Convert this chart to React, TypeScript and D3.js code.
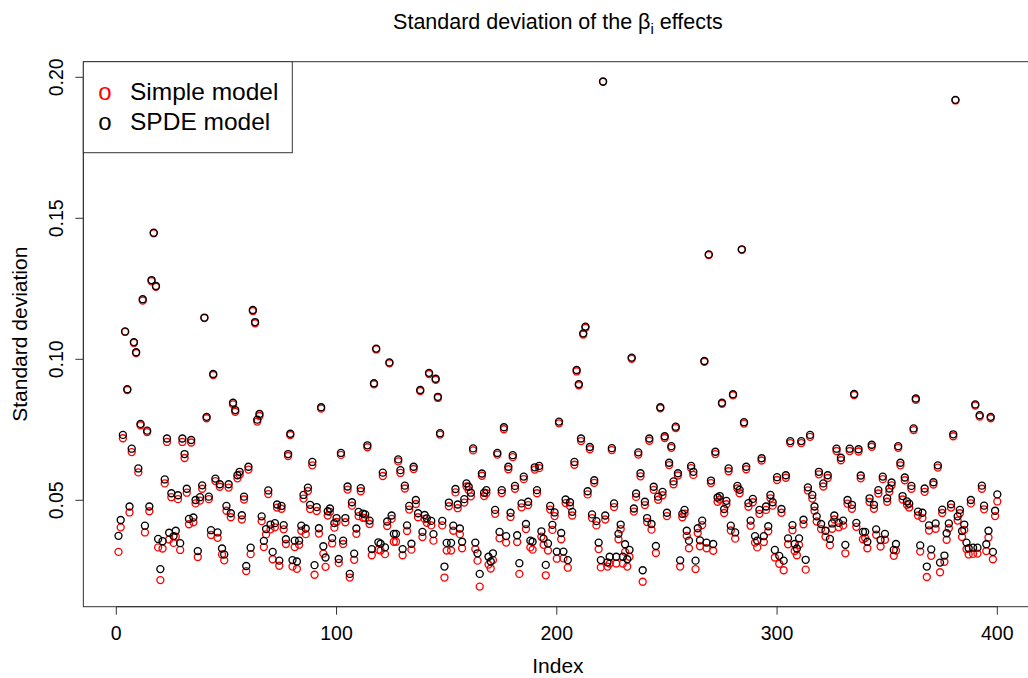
import React from "react";
import * as d3 from "d3";

// SPDE model (black) standard deviations, index 1..400
const spdeSD: number[] = [
  0.0374, 0.0430, 0.0732, 0.1099, 0.0894, 0.0478, 0.0683, 0.1061, 0.1025, 0.0613,
  0.0771, 0.1213, 0.0410, 0.0747, 0.0478, 0.1281, 0.1449, 0.1260, 0.0363, 0.0256,
  0.0355, 0.0574, 0.0719, 0.0385, 0.0525, 0.0373, 0.0392, 0.0518, 0.0348, 0.0719,
  0.0664, 0.0541, 0.0434, 0.0714, 0.0439, 0.0501, 0.0320, 0.0511, 0.0553, 0.1148,
  0.0796, 0.0513, 0.0394, 0.0948, 0.0577, 0.0386, 0.0557, 0.0329, 0.0308, 0.0480,
  0.0557, 0.0454, 0.0846, 0.0820, 0.0589, 0.0601, 0.0447, 0.0513, 0.0267, 0.0619,
  0.0332, 0.1175, 0.1132, 0.0786, 0.0806, 0.0443, 0.0356, 0.0398, 0.0535, 0.0414,
  0.0317, 0.0419, 0.0485, 0.0286, 0.0480, 0.0412, 0.0362, 0.0664, 0.0736, 0.0288,
  0.0357, 0.0283, 0.0357, 0.0410, 0.0519, 0.0400, 0.0545, 0.0484, 0.0636, 0.0270,
  0.0476, 0.0401, 0.0830, 0.0337, 0.0297, 0.0461, 0.0471, 0.0366, 0.0419, 0.0437,
  0.0292, 0.0668, 0.0357, 0.0437, 0.0549, 0.0239, 0.0493, 0.0311, 0.0400, 0.0459,
  0.0543, 0.0453, 0.0450, 0.0695, 0.0428, 0.0327, 0.0915, 0.1038, 0.0351, 0.0346,
  0.0598, 0.0333, 0.0425, 0.0989, 0.0446, 0.0381, 0.0381, 0.0645, 0.0607, 0.0327,
  0.0552, 0.0411, 0.0480, 0.0346, 0.0619, 0.0501, 0.0454, 0.0891, 0.0388, 0.0448,
  0.0436, 0.0952, 0.0427, 0.0380, 0.0931, 0.0867, 0.0738, 0.0427, 0.0265, 0.0349,
  0.0492, 0.0349, 0.0410, 0.0540, 0.0485, 0.0400, 0.0353, 0.0504, 0.0560, 0.0548,
  0.0527, 0.0684, 0.0350, 0.0312, 0.0239, 0.0595, 0.0527, 0.0536, 0.0300, 0.0283,
  0.0312, 0.0466, 0.0668, 0.0388, 0.0536, 0.0759, 0.0373, 0.0619, 0.0456, 0.0660,
  0.0551, 0.0376, 0.0277, 0.0489, 0.0584, 0.0416, 0.0495, 0.0357, 0.0353, 0.0617,
  0.0536, 0.0622, 0.0390, 0.0364, 0.0271, 0.0347, 0.0480, 0.0413, 0.0457, 0.0318,
  0.0779, 0.0384, 0.0318, 0.0503, 0.0288, 0.0493, 0.0459, 0.0636, 0.0962, 0.0912,
  0.0719, 0.1092, 0.1116, 0.0532, 0.0689, 0.0450, 0.0571, 0.0426, 0.0350, 0.0288,
  0.1985, 0.0446, 0.0280, 0.0300, 0.0685, 0.0489, 0.0300, 0.0381, 0.0414, 0.0300,
  0.0344, 0.0291, 0.0324, 0.1006, 0.0471, 0.0524, 0.0670, 0.0596, 0.0252, 0.0495,
  0.0437, 0.0719, 0.0416, 0.0548, 0.0338, 0.0513, 0.0830, 0.0530, 0.0727, 0.0456,
  0.0633, 0.0692, 0.0567, 0.0761, 0.0596, 0.0287, 0.0452, 0.0466, 0.0392, 0.0357,
  0.0622, 0.0601, 0.0286, 0.0401, 0.0358, 0.0428, 0.0994, 0.0350, 0.1372, 0.0570,
  0.0345, 0.0672, 0.0510, 0.0515, 0.0846, 0.0469, 0.0498, 0.0613, 0.0410, 0.0876,
  0.0386, 0.0551, 0.0537, 0.1390, 0.0777, 0.0619, 0.0490, 0.0428, 0.0505, 0.0373,
  0.0357, 0.0466, 0.0649, 0.0373, 0.0478, 0.0408, 0.0519, 0.0493, 0.0324, 0.0582,
  0.0303, 0.0469, 0.0286, 0.0589, 0.0365, 0.0710, 0.0412, 0.0345, 0.0329, 0.0365,
  0.0710, 0.0431, 0.0289, 0.0546, 0.0732, 0.0519, 0.0478, 0.0443, 0.0601, 0.0416,
  0.0560, 0.0392, 0.0589, 0.0363, 0.0418, 0.0446, 0.0683, 0.0420, 0.0651, 0.0428,
  0.0342, 0.0501, 0.0683, 0.0484, 0.0877, 0.0420, 0.0681, 0.0588, 0.0388, 0.0388,
  0.0353, 0.0507, 0.0697, 0.0484, 0.0397, 0.0536, 0.0359, 0.0584, 0.0381, 0.0507,
  0.0542, 0.0563, 0.0324, 0.0345, 0.0692, 0.0633, 0.0515, 0.0581, 0.0496, 0.0488,
  0.0551, 0.0755, 0.0861, 0.0460, 0.0340, 0.0456, 0.0542, 0.0265, 0.0411, 0.0326,
  0.0564, 0.0418, 0.0624, 0.0279, 0.0467, 0.0304, 0.0383, 0.0418, 0.0486, 0.0734,
  0.1920, 0.0443, 0.0466, 0.0391, 0.0414, 0.0350, 0.0330, 0.0501, 0.0332, 0.0840,
  0.0332, 0.0802, 0.0552, 0.0481, 0.0344, 0.0392, 0.0796, 0.0317, 0.0463, 0.0521,
];

// Simple model (red) standard deviations, index 1..400
const simpleSD: number[] = [
  0.0317, 0.0404, 0.0720, 0.1097, 0.0891, 0.0457, 0.0671, 0.1058, 0.1022, 0.0599,
  0.0766, 0.1208, 0.0386, 0.0742, 0.0461, 0.1277, 0.1447, 0.1257, 0.0333, 0.0217,
  0.0329, 0.0560, 0.0707, 0.0361, 0.0511, 0.0349, 0.0371, 0.0504, 0.0324, 0.0707,
  0.0650, 0.0527, 0.0415, 0.0705, 0.0422, 0.0489, 0.0299, 0.0499, 0.0541, 0.1146,
  0.0791, 0.0504, 0.0377, 0.0944, 0.0568, 0.0367, 0.0548, 0.0308, 0.0287, 0.0463,
  0.0545, 0.0440, 0.0840, 0.0814, 0.0578, 0.0591, 0.0432, 0.0503, 0.0249, 0.0609,
  0.0309, 0.1171, 0.1128, 0.0779, 0.0799, 0.0426, 0.0334, 0.0379, 0.0522, 0.0397,
  0.0291, 0.0404, 0.0474, 0.0268, 0.0470, 0.0397, 0.0345, 0.0657, 0.0731, 0.0265,
  0.0334, 0.0257, 0.0342, 0.0392, 0.0506, 0.0380, 0.0533, 0.0469, 0.0624, 0.0236,
  0.0462, 0.0382, 0.0825, 0.0311, 0.0264, 0.0446, 0.0459, 0.0347, 0.0403, 0.0423,
  0.0278, 0.0661, 0.0345, 0.0422, 0.0538, 0.0226, 0.0481, 0.0289, 0.0381, 0.0444,
  0.0532, 0.0438, 0.0437, 0.0688, 0.0416, 0.0305, 0.0911, 0.1035, 0.0325, 0.0322,
  0.0586, 0.0309, 0.0409, 0.0986, 0.0434, 0.0353, 0.0353, 0.0638, 0.0597, 0.0305,
  0.0542, 0.0391, 0.0467, 0.0325, 0.0611, 0.0487, 0.0440, 0.0887, 0.0370, 0.0434,
  0.0420, 0.0948, 0.0411, 0.0357, 0.0927, 0.0863, 0.0733, 0.0411, 0.0226, 0.0322,
  0.0479, 0.0322, 0.0392, 0.0528, 0.0472, 0.0380, 0.0330, 0.0492, 0.0549, 0.0536,
  0.0514, 0.0677, 0.0327, 0.0286, 0.0194, 0.0587, 0.0515, 0.0525, 0.0272, 0.0258,
  0.0288, 0.0452, 0.0662, 0.0365, 0.0526, 0.0752, 0.0350, 0.0610, 0.0441, 0.0653,
  0.0541, 0.0352, 0.0239, 0.0475, 0.0575, 0.0398, 0.0483, 0.0333, 0.0325, 0.0609,
  0.0525, 0.0614, 0.0371, 0.0342, 0.0234, 0.0322, 0.0467, 0.0395, 0.0444, 0.0293,
  0.0773, 0.0362, 0.0294, 0.0490, 0.0261, 0.0480, 0.0446, 0.0626, 0.0957, 0.0908,
  0.0710, 0.1088, 0.1112, 0.0521, 0.0681, 0.0437, 0.0562, 0.0411, 0.0327, 0.0262,
  0.1984, 0.0432, 0.0265, 0.0276, 0.0678, 0.0476, 0.0276, 0.0362, 0.0398, 0.0276,
  0.0317, 0.0265, 0.0300, 0.1002, 0.0460, 0.0512, 0.0662, 0.0585, 0.0211, 0.0483,
  0.0423, 0.0711, 0.0396, 0.0537, 0.0313, 0.0502, 0.0826, 0.0518, 0.0721, 0.0444,
  0.0625, 0.0686, 0.0557, 0.0756, 0.0588, 0.0265, 0.0440, 0.0453, 0.0374, 0.0330,
  0.0614, 0.0590, 0.0256, 0.0384, 0.0337, 0.0412, 0.0991, 0.0330, 0.1370, 0.0561,
  0.0321, 0.0664, 0.0495, 0.0503, 0.0842, 0.0455, 0.0486, 0.0603, 0.0393, 0.0872,
  0.0364, 0.0542, 0.0525, 0.1388, 0.0772, 0.0610, 0.0477, 0.0410, 0.0493, 0.0350,
  0.0333, 0.0452, 0.0641, 0.0352, 0.0466, 0.0390, 0.0507, 0.0481, 0.0297, 0.0572,
  0.0275, 0.0456, 0.0252, 0.0580, 0.0344, 0.0703, 0.0394, 0.0320, 0.0305, 0.0342,
  0.0703, 0.0415, 0.0254, 0.0535, 0.0725, 0.0506, 0.0463, 0.0425, 0.0592, 0.0398,
  0.0549, 0.0371, 0.0579, 0.0341, 0.0399, 0.0432, 0.0675, 0.0404, 0.0642, 0.0411,
  0.0312, 0.0488, 0.0675, 0.0470, 0.0873, 0.0406, 0.0673, 0.0578, 0.0362, 0.0366,
  0.0330, 0.0494, 0.0690, 0.0470, 0.0378, 0.0524, 0.0336, 0.0575, 0.0360, 0.0495,
  0.0530, 0.0553, 0.0303, 0.0322, 0.0686, 0.0624, 0.0503, 0.0571, 0.0484, 0.0474,
  0.0541, 0.0749, 0.0856, 0.0446, 0.0318, 0.0437, 0.0530, 0.0228, 0.0393, 0.0303,
  0.0556, 0.0399, 0.0616, 0.0245, 0.0455, 0.0282, 0.0360, 0.0401, 0.0474, 0.0727,
  0.1918, 0.0428, 0.0454, 0.0370, 0.0395, 0.0327, 0.0308, 0.0489, 0.0310, 0.0836,
  0.0311, 0.0797, 0.0541, 0.0468, 0.0320, 0.0368, 0.0791, 0.0291, 0.0444, 0.0496,
];

const xTicks: number[] = [0, 100, 200, 300, 400];
const yTicks: number[] = [0.05, 0.1, 0.15, 0.2];
const yTickLabels: string[] = ["0.05", "0.10", "0.15", "0.20"];
const legendLabels: string[] = ["Simple model", "SPDE model"];
const legendColors: string[] = ["#FF0000", "#000000"];

const W = 1028;
const H = 678;
const FONT = "'Liberation Sans', Arial, Helvetica, sans-serif";

export default function App() {
  const x = d3.scaleLinear().domain([0, 400]).range([116.3, 997.3]);
  const y = d3.scaleLinear().domain([0.05, 0.2]).range([500.3, 77.3]);
  const left = x(-14.96);
  const right = x(415.96);
  const top = 61.7;
  const bottom = 606.7;
  const cx = (left + right) / 2;
  const cy = (top + bottom) / 2;

  const r = 3.5;
  const sw = 1.35;

  return (
    <svg
      width={W}
      height={H}
      style={{ position: "absolute", left: 0, top: 0, background: "#fff" }}
      fontFamily={FONT}
    >
      <rect x={0} y={0} width={W} height={H} fill="#fff" />
      {/* points: simple (red) first, SPDE (black) on top */}
      <g fill="none" stroke="#FF0000" strokeWidth={sw}>
        {simpleSD.map((v, i) => (
          <circle key={"s" + i} cx={x(i + 1)} cy={y(v)} r={r} />
        ))}
      </g>
      <g fill="none" stroke="#000" strokeWidth={sw}>
        {spdeSD.map((v, i) => (
          <circle key={"p" + i} cx={x(i + 1)} cy={y(v)} r={r} />
        ))}
      </g>

      {/* box */}
      <rect x={left} y={top} width={right - left} height={bottom - top} fill="none" stroke="#333" strokeWidth={1} />

      {/* x axis */}
      <line x1={x(xTicks[0])} x2={x(xTicks[xTicks.length - 1])} y1={bottom} y2={bottom} stroke="#333" />
      {xTicks.map((t) => (
        <g key={"xt" + t}>
          <line x1={x(t)} x2={x(t)} y1={bottom} y2={bottom + 8} stroke="#333" />
          <text x={x(t)} y={640} textAnchor="middle" fontSize={19.5} fill="#000">
            {t}
          </text>
        </g>
      ))}

      {/* y axis */}
      <line x1={left} x2={left} y1={y(yTicks[0])} y2={y(yTicks[yTicks.length - 1])} stroke="#333" />
      {yTicks.map((t, i) => (
        <g key={"yt" + i}>
          <line x1={left - 8} x2={left} y1={y(t)} y2={y(t)} stroke="#333" />
          <text
            transform={`translate(63,${y(t)}) rotate(-90)`}
            textAnchor="middle"
            fontSize={19.5}
            fill="#000"
          >
            {yTickLabels[i]}
          </text>
        </g>
      ))}

      {/* titles */}
      <text x={cx} y={29} textAnchor="middle" fontSize={21.5} fill="#000">
        Standard deviation of the β
        <tspan fontSize={15} dy={5}>i</tspan>
        <tspan dy={-5}> effects</tspan>
      </text>
      <text x={cx} y={673} textAnchor="middle" fontSize={21} fill="#000">
        Index
      </text>
      <text transform={`translate(27,${cy}) rotate(-90)`} textAnchor="middle" fontSize={21} fill="#000">
        Standard deviation
      </text>

      {/* legend */}
      <rect x={left} y={top} width={292.3 - left} height={152.7 - top} fill="#fff" stroke="#333" strokeWidth={1} />
      {legendLabels.map((lab, i) => (
        <g key={"lg" + i}>
          <text x={105} y={100 + i * 30} textAnchor="middle" fontSize={24} fill={legendColors[i]}>
            o
          </text>
          <text x={130} y={100 + i * 30} fontSize={24.5} fill="#000">
            {lab}
          </text>
        </g>
      ))}
    </svg>
  );
}
